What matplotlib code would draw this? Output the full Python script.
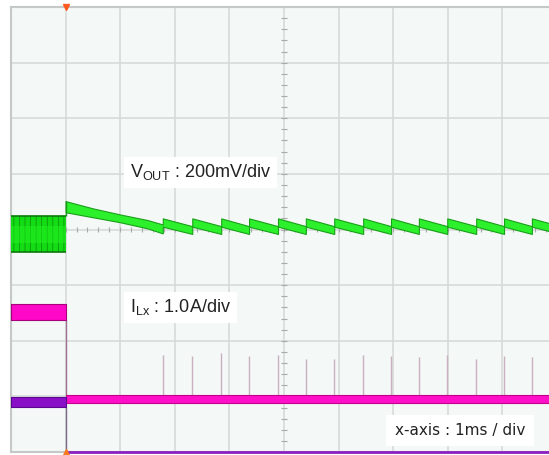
import numpy as np
import matplotlib.pyplot as plt

plt.rcParams['font.family'] = ['Liberation Sans', 'DejaVu Sans']
plt.rcParams['mathtext.fontset'] = 'custom'
plt.rcParams['mathtext.rm'] = 'Liberation Sans'
plt.rcParams['hatch.linewidth'] = 0.5

# screen units: x in divisions (1 ms/div), y in divisions from bottom of screen
trig_t = 1.0

# VOUT before the step (noisy band edges)
vout_pre = (4.24, 3.59)
# VOUT right after the step, decaying envelope
decay_t = [1.0, 1.5, 2.0, 2.5, 2.78]
decay_hi = [4.51, 4.38, 4.27, 4.17, 4.09]
decay_lo = [4.31, 4.22, 4.13, 4.02, 3.93]
# switching instants (sawtooth jumps / current spikes)
pulse_t = [2.78, 3.32, 3.85, 4.36, 4.89, 5.40, 5.92, 6.45, 6.96, 7.47, 7.99, 8.52, 9.03, 9.54, 10.06]
tooth_hi = (4.20, 4.06)
tooth_lo = (4.05, 3.92)

# ILx
il_pre = (2.66, 2.37)
il_post = (1.02, 0.88)
spike_top = [1.74, 1.72, 1.78, 1.72, 1.74, 1.67, 1.67, 1.74, 1.72, 1.70, 1.75, 1.68, 1.72, 1.70]

# third channel
ch3_pre = (0.99, 0.81)
ch3_post = 0.0

fig = plt.figure(figsize=(5.49, 4.55), dpi=100)
ax = fig.add_axes([11 / 549, 3 / 455, 538 / 549, 445 / 455])
ax.set_facecolor('#f4f8f6')
ax.set_xlim(0, 538 / 54.6)
ax.set_ylim(0, 8)

# graticule
ax.set_xticks(range(0, 10))
ax.set_yticks(range(0, 9))
ax.grid(color='#d6dad8', lw=1.2)
ax.set_axisbelow(True)
ax.tick_params(length=0, labelbottom=False, labelleft=False)
for s in ['left', 'top', 'bottom']:
    ax.spines[s].set_color('#c4c8c6')
    ax.spines[s].set_linewidth(1.5)
ax.spines['right'].set_visible(False)

# centre cross ticks
ax.vlines(np.arange(0, 10.01, 0.2), 3.96, 4.04, color='#a8aca8', lw=0.8, zorder=1)
ax.hlines(np.arange(0, 8.01, 0.2), 4.95, 5.05, color='#a8aca8', lw=0.8, zorder=1)

# VOUT
ax.fill_between([0, trig_t], vout_pre[1], vout_pre[0], facecolor='#14dc14',
                edgecolor='#0a8a0a', hatch='|||', lw=0, zorder=3)
ax.fill_between([0, trig_t], 3.76, 4.06, facecolor='#20f020', alpha=0.55,
                lw=0, zorder=3)
ax.hlines(vout_pre, 0, trig_t, color='#0a7a0a', lw=1.2, zorder=3)

t = list(decay_t)
hi = list(decay_hi)
lo = list(decay_lo)
for i in range(len(pulse_t) - 1):
    t += [pulse_t[i], pulse_t[i + 1]]
    hi += [tooth_hi[0], tooth_hi[1]]
    lo += [tooth_lo[0], tooth_lo[1]]
ax.fill_between(t, lo, hi, facecolor='#2cf02c', edgecolor='#18a018', lw=0.8, zorder=3)
ax.vlines(trig_t, vout_pre[0], decay_hi[0], color='#149a14', lw=1, zorder=3)

# ILx
ax.fill_between([0, trig_t], il_pre[1], il_pre[0], facecolor='#ff08c8',
                edgecolor='#a8007a', lw=0.8, zorder=4)
ax.vlines(pulse_t[:len(spike_top)], il_post[0], spike_top, color='#c8b0c0', lw=1.0, zorder=2)
ax.fill_between([trig_t, 11], il_post[1], il_post[0], facecolor='#ff10c8',
                edgecolor='#c0008c', lw=0.8, zorder=4)
ax.vlines(trig_t, il_post[0], il_pre[1], color='#a07090', lw=1, zorder=2)

# third channel
ax.fill_between([0, trig_t], ch3_pre[1], ch3_pre[0], facecolor='#8a10c8',
                edgecolor='#5a0890', lw=0.8, zorder=4)
ax.vlines(trig_t, ch3_post, ch3_pre[1], color='#7a6a8a', lw=1, zorder=2)
ax.plot([trig_t, 11], [ch3_post, ch3_post], color='#8a20c0', lw=2, zorder=5, clip_on=False)

# trigger markers
ax.plot(trig_t, 8, marker='v', color='#ff5a20', ms=5, clip_on=False, zorder=6)
ax.plot(trig_t, 0, marker='^', color='#ff7a20', ms=4, clip_on=False, zorder=6)

# labels
box = dict(facecolor='white', edgecolor='none', pad=4)
ax.text(2.18, 4.94, r'V$_{\mathrm{OUT}}$ : 200mV/div', fontsize=13, color='#222222',
        va='baseline', bbox=box, zorder=7)
ax.text(2.18, 2.51, r'I$_{\mathrm{Lx}}$ : 1.0A/div', fontsize=13, color='#222222',
        va='baseline', bbox=box, zorder=7)
ax.text(7.03, 0.305, 'x-axis : 1ms / div', fontsize=11, color='#222222',
        family=['DejaVu Sans'], va='baseline',
        bbox=dict(facecolor='white', edgecolor='none', pad=6), zorder=7)

fig.savefig('out.png', dpi=100)
